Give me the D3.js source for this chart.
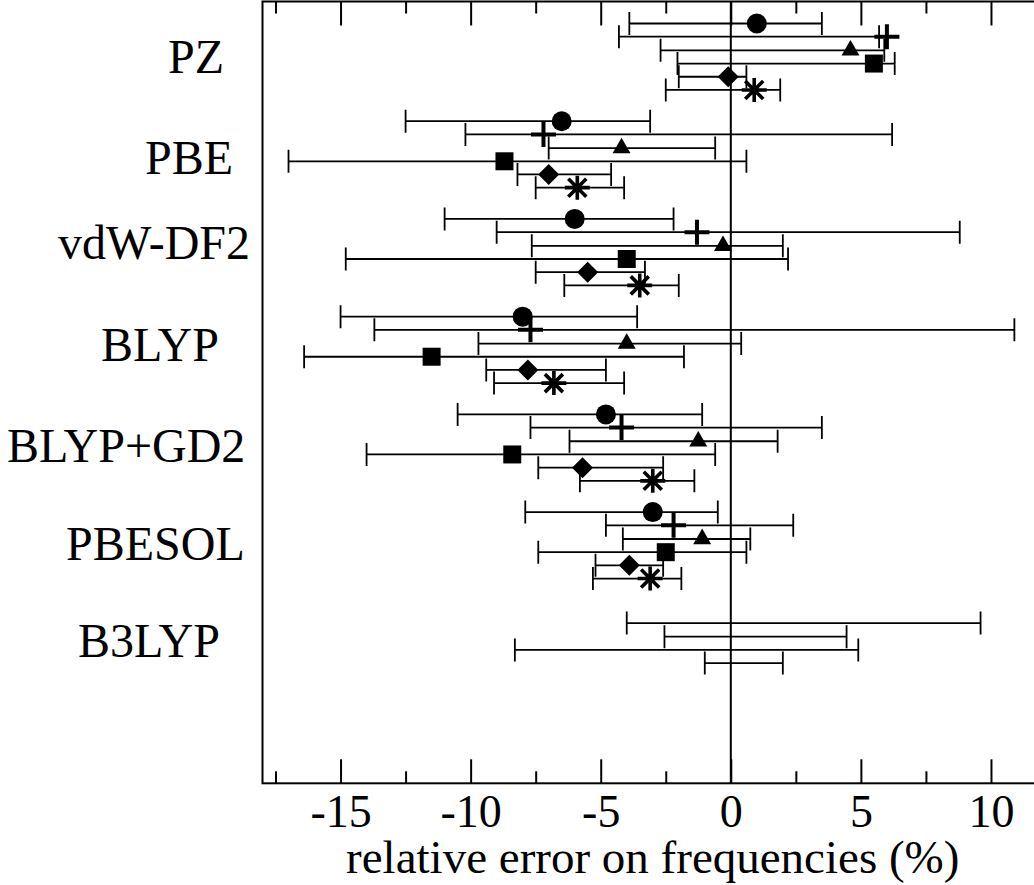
<!DOCTYPE html>
<html>
<head>
<meta charset="utf-8">
<script src="https://cdn.jsdelivr.net/npm/d3@7/dist/d3.min.js"></script>
<style>
  html, body { margin: 0; padding: 0; background: #fff; }
  svg { display: block; font-family: "Liberation Serif", "Times New Roman", serif; }
</style>
</head>
<body>
<svg id="chart" width="1034" height="885"></svg>
<script>
// Functionals, top to bottom
const methods = ["PZ", "PBE", "vdW-DF2", "BLYP", "BLYP+GD2", "PBESOL", "B3LYP"];

// Mean relative error (%) and error-bar limits for each symbol series
const circleMean = [1.0, -6.5, -6.0, -8.0, -4.8, -3.0, null];
const circleLow  = [-3.9, -12.5, -11.0, -15.0, -10.5, -7.9, null];
const circleHigh = [3.5, -3.1, -2.2, -3.6, -1.1, -0.5, null];

const plusMean = [6.0, -7.2, -1.3, -7.7, -4.2, -2.2, null];
const plusLow  = [-4.3, -10.2, -9.0, -13.7, -7.7, -4.8, -4.0];
const plusHigh = [5.7, 6.2, 8.8, 10.9, 3.5, 2.4, 9.6];

const triangleMean = [4.6, -4.2, -0.3, -4.0, -1.25, -1.1, null];
const triangleLow  = [-2.7, -7.0, -7.65, -9.7, -6.2, -4.15, -2.55];
const triangleHigh = [5.9, -0.6, 2.0, 0.4, 1.8, 0.75, 4.45];

const squareMean = [5.5, -8.7, -4.0, -11.5, -8.4, -2.5, null];
const squareLow  = [-2.05, -17.0, -14.8, -16.4, -14.0, -7.4, -8.3];
const squareHigh = [6.3, 0.6, 2.2, -1.8, -0.6, 0.6, 4.9];

const diamondMean = [-0.1, -7.0, -5.5, -7.8, -5.7, -3.9, null];
const diamondLow  = [-2.0, -8.2, -7.5, -9.4, -7.4, -5.2, -1.0];
const diamondHigh = [0.6, -4.6, -3.3, -4.8, -2.6, -2.6, 2.0];

const asteriskMean = [0.9, -5.9, -3.5, -6.8, -3.0, -3.1, null];
const asteriskLow  = [-2.5, -7.5, -6.4, -9.1, -5.8, -5.3, null];
const asteriskHigh = [1.9, -4.1, -2.0, -4.1, -1.4, -1.9, null];

// Axis ticks
const majorTicks = [-15, -10, -5, 0, 5, 10];
const minorTicks = [-17.5, -12.5, -7.5, -2.5, 2.5, 7.5];
const xTitle = "relative error on frequencies (%)";

// Series table: symbol, vertical slot within a group row, values
const series = [
  { symbol: "circle",   slot: 0.225, mean: circleMean,   low: circleLow,   high: circleHigh },
  { symbol: "plus",     slot: 0.36,  mean: plusMean,     low: plusLow,     high: plusHigh },
  { symbol: "triangle", slot: 0.5,   mean: triangleMean, low: triangleLow, high: triangleHigh },
  { symbol: "square",   slot: 0.635, mean: squareMean,   low: squareLow,   high: squareHigh },
  { symbol: "diamond",  slot: 0.77,  mean: diamondMean,  low: diamondLow,  high: diamondHigh },
  { symbol: "asterisk", slot: 0.905, mean: asteriskMean, low: asteriskLow, high: asteriskHigh }
];

// Layout
const plotLeft = 262.5, plotRight = 1043, plotTop = 1.5, plotBottom = 783.3;
const labelStartX = [168, 145, 58, 101, 7, 66, 78];
const labelRow = [0.565, 0.6, 0.47, 0.51, 0.55, 0.555, 0.545];

const svg = d3.select("#chart");
const x = d3.scaleLinear().domain([-18, 12]).range([plotLeft, plotRight]);
const y = d3.scaleLinear().domain([0, 8]).range([plotTop, plotBottom]);

svg.append("rect").attr("width", 1034).attr("height", 885).attr("fill", "#fff");

// zero line
svg.append("line")
  .attr("x1", x(0)).attr("x2", x(0))
  .attr("y1", plotTop).attr("y2", plotBottom)
  .attr("stroke", "#000").attr("stroke-width", 2);

// axes: inward ticks, bottom and top
function styleAxis(g) {
  g.select(".domain").remove();
  g.selectAll(".tick line").attr("stroke", "#000").attr("stroke-width", 2);
}
svg.append("g").attr("transform", `translate(0,${plotBottom})`)
  .call(d3.axisBottom(x).tickValues(majorTicks).tickSize(-24).tickSizeOuter(0).tickPadding(11)
        .tickFormat(d => String(d)))
  .call(styleAxis)
  .call(g => g.selectAll(".tick text")
      .attr("fill", "#000").attr("font-size", 46)
      .attr("font-family", "'Liberation Serif', 'Times New Roman', serif"));
svg.append("g").attr("transform", `translate(0,${plotBottom})`)
  .call(d3.axisBottom(x).tickValues(minorTicks).tickSize(-12).tickFormat(""))
  .call(styleAxis);
svg.append("g").attr("transform", `translate(0,${plotTop})`)
  .call(d3.axisTop(x).tickValues(majorTicks).tickSize(-24).tickFormat(""))
  .call(styleAxis);
svg.append("g").attr("transform", `translate(0,${plotTop})`)
  .call(d3.axisTop(x).tickValues(minorTicks).tickSize(-12).tickFormat(""))
  .call(styleAxis);

// frame
svg.append("rect")
  .attr("x", plotLeft).attr("y", plotTop)
  .attr("width", plotRight - plotLeft).attr("height", plotBottom - plotTop)
  .attr("fill", "none").attr("stroke", "#000").attr("stroke-width", 2);

// x-axis title
svg.append("text")
  .attr("x", (plotLeft + plotRight) / 2).attr("y", 873)
  .attr("text-anchor", "middle").attr("font-size", 47).attr("fill", "#000")
  .text(xTitle);

// group labels
svg.append("g").selectAll("text").data(methods).join("text")
  .attr("x", (d, i) => labelStartX[i])
  .attr("y", (d, i) => y(i + labelRow[i]) + 16)
  .attr("font-size", 48).attr("fill", "#000")
  .text(d => d);

// flatten to points
const points = [];
series.forEach(s => {
  methods.forEach((m, i) => {
    points.push({ symbol: s.symbol, row: i + s.slot, mean: s.mean[i], low: s.low[i], high: s.high[i] });
  });
});

// error bars
const capHalf = 11.5;
const bars = svg.append("g").attr("stroke", "#000").attr("stroke-width", 1.8).attr("fill", "none");
const withBars = points.filter(p => p.low != null && p.high != null);
bars.selectAll("path").data(withBars).join("path")
  .attr("d", p => {
    const yy = y(p.row), x0 = x(p.low), x1 = x(p.high);
    return `M${x0},${yy}H${x1}M${x0},${yy - capHalf}V${yy + capHalf}M${x1},${yy - capHalf}V${yy + capHalf}`;
  });

// markers
function symbolPath(type) {
  switch (type) {
    case "circle": return d3.symbol(d3.symbolCircle, Math.PI * 10 * 10)();
    case "square": return d3.symbol(d3.symbolSquare, 18 * 18)();
    case "triangle": return d3.symbol(d3.symbolTriangle, 140)();
    case "diamond": return "M0,-10.5L10.5,0L0,10.5L-10.5,0Z";
    case "plus": return "M-12.5,0H12.5M0,-12.5V12.5";
    case "asterisk": return "M-12.5,0H12.5M0,-12V12M-9,-9L9,9M-9,9L9,-9";
  }
}
const strokeSymbols = new Set(["plus", "asterisk"]);
svg.append("g").selectAll("path").data(points.filter(p => p.mean != null)).join("path")
  .attr("transform", p => `translate(${x(p.mean)},${y(p.row)})`)
  .attr("d", p => symbolPath(p.symbol))
  .attr("fill", p => strokeSymbols.has(p.symbol) ? "none" : "#000")
  .attr("stroke", p => strokeSymbols.has(p.symbol) ? "#000" : "none")
  .attr("stroke-width", p => p.symbol === "plus" ? 4 : 3.6);
</script>
</body>
</html>
